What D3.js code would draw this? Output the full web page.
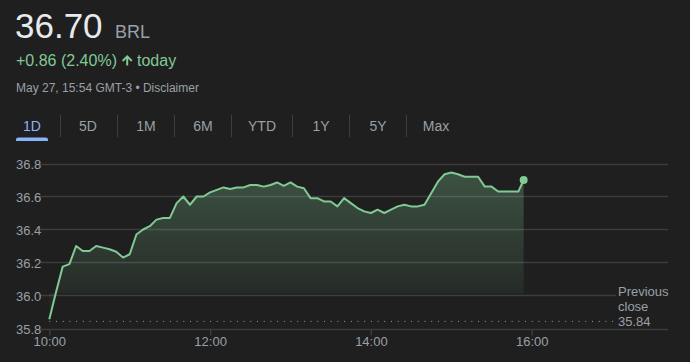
<!DOCTYPE html>
<html>
<head>
<meta charset="utf-8">
<script src="https://cdn.jsdelivr.net/npm/d3@7"></script>
<style>
  body { margin: 0; background: #1f1f1f; font-family: 'Liberation Sans', Arial, sans-serif; }
  svg { display: block; }
</style>
</head>
<body>
<div id="chart"></div>
<script>
'use strict'

// price every 5 minutes from 10:00 to 15:50, then last quote at 15:54
var prices = [
  35.856, 36.02, 36.175, 36.19, 36.30, 36.27, 36.27, 36.30, 36.29, 36.28,
  36.265, 36.23, 36.25, 36.37, 36.40, 36.42, 36.46, 36.47, 36.47, 36.56,
  36.60, 36.55, 36.60, 36.60, 36.625, 36.64, 36.655, 36.645, 36.655, 36.655,
  36.67, 36.67, 36.66, 36.67, 36.685, 36.665, 36.685, 36.66, 36.65, 36.59,
  36.59, 36.57, 36.57, 36.54, 36.59, 36.56, 36.53, 36.51, 36.50, 36.52,
  36.50, 36.52, 36.54, 36.55, 36.54, 36.54, 36.55, 36.62, 36.69, 36.735,
  36.745, 36.735, 36.72, 36.72, 36.72, 36.66, 36.66, 36.63, 36.63, 36.63,
  36.63, 36.70
]
var minutes = prices.map(function(d, i) {
  return i < prices.length - 1 ? i * 5 : 354
})
var yTicks = [35.8, 36.0, 36.2, 36.4, 36.6, 36.8]
var xTicks = [0, 120, 240, 360]
var xTickLabels = ['10:00', '12:00', '14:00', '16:00']
var tabs = ['1D', '5D', '1M', '6M', 'YTD', '1Y', '5Y', 'Max']
var tabCenters = [32, 88, 146, 203, 262, 321, 378, 436]
var tabSeparators = [60.5, 117.5, 174.5, 231.5, 292.5, 349.5, 406.5]
var previousClose = 35.84

var svg = d3.select('#chart')
  .append('svg')
  .attr('width', 690)
  .attr('height', 362)

svg.append('rect').attr('width', 690).attr('height', 362).attr('fill', '#1f1f1f')

// header
var head = svg.append('text').attr('x', 15).attr('y', 38)
head.append('tspan')
  .attr('font-size', '35px')
  .attr('fill', '#e8eaed')
  .text('36.70')
head.append('tspan')
  .attr('x', 115)
  .attr('font-size', '18px')
  .attr('fill', '#9aa0a6')
  .text('BRL')

svg.append('text')
  .attr('x', 16).attr('y', 66)
  .attr('font-size', '16px')
  .attr('fill', '#81c995')
  .text('+0.86 (2.40%)')
svg.append('path')
  .attr('d', 'M127.2,55 L132.5,60.3 L131.1,61.7 L128.2,58.8 L128.2,65.5 L126.2,65.5 L126.2,58.8 L123.3,61.7 L121.9,60.3 Z')
  .attr('fill', '#81c995')
svg.append('text')
  .attr('x', 137).attr('y', 66)
  .attr('font-size', '16px')
  .attr('fill', '#81c995')
  .text('today')

svg.append('text')
  .attr('x', 16).attr('y', 92)
  .attr('font-size', '12px')
  .attr('fill', '#9aa0a6')
  .text('May 27, 15:54 GMT-3 \u2022 Disclaimer')

// range tabs
tabs.forEach(function(t, i) {
  svg.append('text')
    .attr('x', tabCenters[i]).attr('y', 131)
    .attr('text-anchor', 'middle')
    .attr('font-size', '14px')
    .attr('fill', i === 0 ? '#8ab4f8' : '#9aa0a6')
    .text(t)
})
tabSeparators.forEach(function(sx) {
  svg.append('line')
    .attr('x1', sx).attr('x2', sx)
    .attr('y1', 115).attr('y2', 137)
    .attr('stroke', '#3c4043')
})
svg.append('path')
  .attr('d', 'M16,141 L16,139.5 Q16,137.5 19,137.5 L45,137.5 Q48,137.5 48,139.5 L48,141 Z')
  .attr('fill', '#8ab4f8')

// chart
var x = d3.scaleLinear().domain([0, 360]).range([49.3, 531.7])
var y = d3.scaleLinear().domain([35.8, 36.8]).range([328.5, 163.5])

var defs = svg.append('defs')
var grad = defs.append('linearGradient')
  .attr('id', 'fade')
  .attr('x1', 0).attr('x2', 0).attr('y1', 0).attr('y2', 1)
grad.append('stop').attr('offset', '0%').attr('stop-color', '#81c995').attr('stop-opacity', 0.3)
grad.append('stop').attr('offset', '100%').attr('stop-color', '#81c995').attr('stop-opacity', 0.02)

var pts = prices.map(function(p, i) { return [minutes[i], p] })

var area = d3.area()
  .x(function(d) { return x(d[0]) })
  .y0(y(36.0) - 2)
  .y1(function(d) { return y(d[1]) })
svg.append('path')
  .datum(pts)
  .attr('d', area)
  .attr('fill', 'url(#fade)')

var grid = svg.append('g')
yTicks.forEach(function(v) {
  grid.append('line')
    .attr('x1', 40)
    .attr('x2', v === 36.0 ? 616 : 668)
    .attr('y1', Math.round(y(v)) + 0.5)
    .attr('y2', Math.round(y(v)) + 0.5)
    .attr('stroke', 'rgba(232,234,237,0.15)')
    .attr('stroke-width', 1.3)
  grid.append('text')
    .attr('x', 16)
    .attr('y', y(v) + 5)
    .attr('font-size', '13px')
    .attr('fill', '#9aa0a6')
    .text(v.toFixed(1))
})

var xAxis = d3.axisBottom(x)
  .tickValues(xTicks)
  .tickSize(6)
  .tickFormat(function(d, i) { return xTickLabels[i] })
var gx = svg.append('g')
  .attr('transform', 'translate(0,' + (Math.round(y(35.8)) + 0.5) + ')')
  .call(xAxis)
gx.select('.domain').remove()
gx.selectAll('line').attr('stroke', '#3c4043').attr('stroke-width', 1.3)
gx.selectAll('text')
  .attr('font-family', "'Liberation Sans', Arial, sans-serif")
  .attr('font-size', '13px')
  .attr('fill', '#9aa0a6')
  .attr('dy', '0.55em')

// previous close
svg.append('line')
  .attr('x1', x(0)).attr('x2', 614)
  .attr('y1', y(previousClose) - 0.5).attr('y2', y(previousClose) - 0.5)
  .attr('stroke', '#9aa0a6')
  .attr('stroke-width', 1)
  .attr('stroke-dasharray', '1,5.7')
var pc = svg.append('text')
  .attr('font-size', '13px')
  .attr('fill', '#9aa0a6')
;['Previous', 'close', previousClose.toFixed(2)].forEach(function(t, i) {
  pc.append('tspan').attr('x', 618).attr('y', 296 + i * 15).text(t)
})

var line = d3.line()
  .x(function(d) { return x(d[0]) })
  .y(function(d) { return y(d[1]) })
svg.append('path')
  .datum(pts)
  .attr('d', line)
  .attr('fill', 'none')
  .attr('stroke', '#81c995')
  .attr('stroke-width', 2)
  .attr('stroke-linejoin', 'round')

var last = pts[pts.length - 1]
svg.append('circle')
  .attr('cx', x(last[0]))
  .attr('cy', y(last[1]))
  .attr('r', 4)
  .attr('fill', '#81c995')
</script>
</body>
</html>
